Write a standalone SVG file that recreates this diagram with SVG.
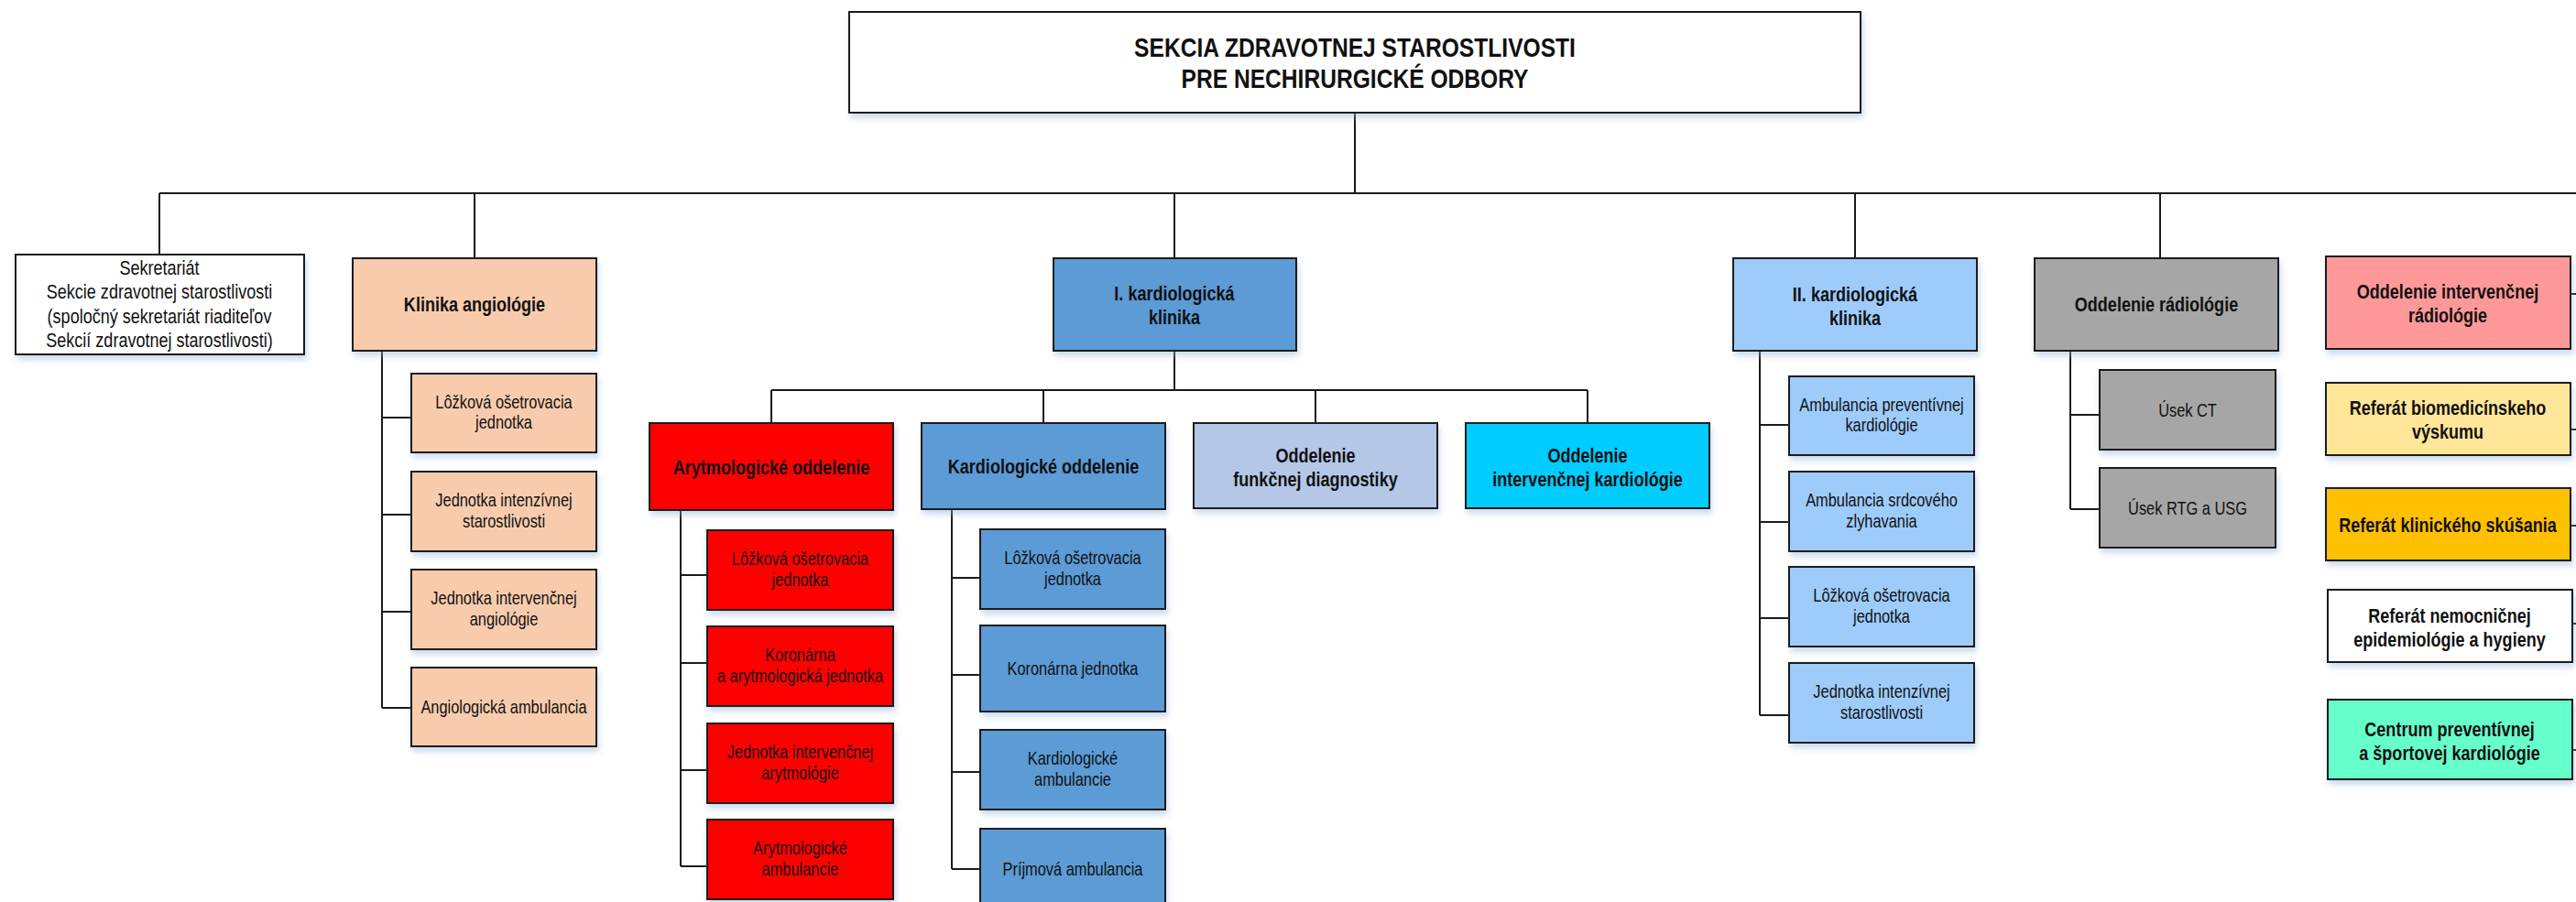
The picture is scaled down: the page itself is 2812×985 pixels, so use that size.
<svg xmlns="http://www.w3.org/2000/svg" width="2812" height="985" viewBox="0 0 2812 985">
<style>
text{font-family:"Liberation Sans",Arial,sans-serif;fill:#111;text-anchor:middle}
.h{font-size:30px;font-weight:bold}
.b{font-size:22px;font-weight:bold}
.r{font-size:20px}
.s{font-size:22px}
rect{stroke:#1a1a1a;stroke-width:2;filter:url(#sh)}
.cn path{fill:none;stroke:#1a1a1a;stroke-width:2}
.w{fill:#ffffff}.pe{fill:#F8CBAD}.bl{fill:#5B9BD5}.rd{fill:#FF0000}.lb{fill:#B4C7E7}
.cy{fill:#00CCFF}.sk{fill:#9DCBFA}.gr{fill:#A6A6A6}.pk{fill:#FF9999}.ye{fill:#FFE699}
.or{fill:#FFC000}.mi{fill:#66FFCC}
</style>
<defs>
<filter id="sh" x="-10%" y="-10%" width="125%" height="140%">
<feDropShadow dx="2" dy="5" stdDeviation="3" flood-color="#8fb0d8" flood-opacity="0.45"/>
</filter>
</defs>
<rect x="0" y="0" width="2812" height="985" fill="#ffffff" style="stroke:none;filter:none"/>

<g class="cn" id="connectors">
<path d="M1479,123V211M174,211H2812"/>
<path d="M174,211V278M518,211V282M1282,211V282M2025,211V282M2358,211V282"/>
<path d="M417,383V773M417,456H449M417,562H449M417,668H449M417,773H449"/>
<path d="M1282,383V426M842,426H1733M842,426V462M1139,426V462M1436,426V462M1733,426V462"/>
<path d="M743,557V946M743,628H772M743,724H772M743,841H772M743,946H772"/>
<path d="M1039,556V949M1039,631H1070M1039,737H1070M1039,843H1070M1039,949H1070"/>
<path d="M1921,383V781M1921,464H1953M1921,570H1953M1921,675H1953M1921,781H1953"/>
<path d="M2260,383V556M2260,453H2292M2260,556H2292"/>
<path d="M2806,321H2812M2806,469H2812M2806,574H2812M2808,681H2812M2808,819H2812"/>
</g>

<g id="top">
<rect class="w" x="927" y="13" width="1104" height="110"/>
<text class="h" transform="translate(1479,62) scale(.82 1)"><tspan x="0">SEKCIA ZDRAVOTNEJ STAROSTLIVOSTI</tspan><tspan x="0" dy="34">PRE NECHIRURGICKÉ ODBORY</tspan></text>
</g>

<g id="sekretariat">
<rect class="w" x="17" y="278" width="315" height="109"/>
<text class="s" transform="translate(174,300) scale(.82 1)"><tspan x="0">Sekretariát</tspan><tspan x="0" dy="26.5">Sekcie zdravotnej starostlivosti</tspan><tspan x="0" dy="26.5">(spoločný sekretariát riaditeľov</tspan><tspan x="0" dy="26.5">Sekcií zdravotnej starostlivosti)</tspan></text>
</g>

<g id="klinika-angiologie">
<rect class="pe" x="385" y="282" width="266" height="101"/>
<text class="b" transform="translate(518,340) scale(.82 1)">Klinika angiológie</text>
</g>
<g id="ka-1"><rect class="pe" x="449" y="408" width="202" height="86"/>
<text class="r" transform="translate(550,445.5) scale(.82 1)"><tspan x="0">Lôžková ošetrovacia</tspan><tspan x="0" dy="23">jednotka</tspan></text></g>
<g id="ka-2"><rect class="pe" x="449" y="515" width="202" height="87"/>
<text class="r" transform="translate(550,553) scale(.82 1)"><tspan x="0">Jednotka intenzívnej</tspan><tspan x="0" dy="23">starostlivosti</tspan></text></g>
<g id="ka-3"><rect class="pe" x="449" y="622" width="202" height="87"/>
<text class="r" transform="translate(550,660) scale(.82 1)"><tspan x="0">Jednotka intervenčnej</tspan><tspan x="0" dy="23">angiológie</tspan></text></g>
<g id="ka-4"><rect class="pe" x="449" y="729" width="202" height="86"/>
<text class="r" transform="translate(550,779) scale(.82 1)">Angiologická ambulancia</text></g>

<g id="i-kardio">
<rect class="bl" x="1150" y="282" width="265" height="101"/>
<text class="b" transform="translate(1282,328) scale(.82 1)"><tspan x="0">I. kardiologická</tspan><tspan x="0" dy="26">klinika</tspan></text>
</g>

<g id="arytmologicke">
<rect class="rd" x="709" y="462" width="266" height="95"/>
<text class="b" transform="translate(842,518) scale(.82 1)">Arytmologické oddelenie</text>
</g>
<g id="ar-1"><rect class="rd" x="772" y="579" width="203" height="87"/>
<text class="r" transform="translate(873.5,617) scale(.82 1)"><tspan x="0">Lôžková ošetrovacia</tspan><tspan x="0" dy="23">jednotka</tspan></text></g>
<g id="ar-2"><rect class="rd" x="772" y="684" width="203" height="87"/>
<text class="r" transform="translate(873.5,722) scale(.82 1)"><tspan x="0">Koronárna</tspan><tspan x="0" dy="23">a arytmologická jednotka</tspan></text></g>
<g id="ar-3"><rect class="rd" x="772" y="790" width="203" height="87"/>
<text class="r" transform="translate(873.5,828) scale(.82 1)"><tspan x="0">Jednotka intervenčnej</tspan><tspan x="0" dy="23">arytmológie</tspan></text></g>
<g id="ar-4"><rect class="rd" x="772" y="895" width="203" height="87"/>
<text class="r" transform="translate(873.5,933) scale(.82 1)"><tspan x="0">Arytmologické</tspan><tspan x="0" dy="23">ambulancie</tspan></text></g>

<g id="kardiologicke">
<rect class="bl" x="1006" y="462" width="266" height="94"/>
<text class="b" transform="translate(1139,517) scale(.82 1)">Kardiologické oddelenie</text>
</g>
<g id="ko-1"><rect class="bl" x="1070" y="578" width="202" height="87"/>
<text class="r" transform="translate(1171,616) scale(.82 1)"><tspan x="0">Lôžková ošetrovacia</tspan><tspan x="0" dy="23">jednotka</tspan></text></g>
<g id="ko-2"><rect class="bl" x="1070" y="683" width="202" height="94"/>
<text class="r" transform="translate(1171,737) scale(.82 1)">Koronárna jednotka</text></g>
<g id="ko-3"><rect class="bl" x="1070" y="797" width="202" height="87"/>
<text class="r" transform="translate(1171,835) scale(.82 1)"><tspan x="0">Kardiologické</tspan><tspan x="0" dy="23">ambulancie</tspan></text></g>
<g id="ko-4"><rect class="bl" x="1070" y="905" width="202" height="90"/>
<text class="r" transform="translate(1171,956) scale(.82 1)">Príjmová ambulancia</text></g>

<g id="funkcnej">
<rect class="lb" x="1303" y="462" width="266" height="93"/>
<text class="b" transform="translate(1436,505) scale(.82 1)"><tspan x="0">Oddelenie</tspan><tspan x="0" dy="26">funkčnej diagnostiky</tspan></text>
</g>
<g id="intervencnej-kardio">
<rect class="cy" x="1600" y="462" width="266" height="93"/>
<text class="b" transform="translate(1733,505) scale(.82 1)"><tspan x="0">Oddelenie</tspan><tspan x="0" dy="26">intervenčnej kardiológie</tspan></text>
</g>

<g id="ii-kardio">
<rect class="sk" x="1892" y="282" width="266" height="101"/>
<text class="b" transform="translate(2025,329) scale(.82 1)"><tspan x="0">II. kardiologická</tspan><tspan x="0" dy="26">klinika</tspan></text>
</g>
<g id="ii-1"><rect class="sk" x="1953" y="411" width="202" height="86"/>
<text class="r" transform="translate(2054,448.5) scale(.82 1)"><tspan x="0">Ambulancia preventívnej</tspan><tspan x="0" dy="23">kardiológie</tspan></text></g>
<g id="ii-2"><rect class="sk" x="1953" y="515" width="202" height="87"/>
<text class="r" transform="translate(2054,553) scale(.82 1)"><tspan x="0">Ambulancia srdcového</tspan><tspan x="0" dy="23">zlyhavania</tspan></text></g>
<g id="ii-3"><rect class="sk" x="1953" y="619" width="202" height="87"/>
<text class="r" transform="translate(2054,657) scale(.82 1)"><tspan x="0">Lôžková ošetrovacia</tspan><tspan x="0" dy="23">jednotka</tspan></text></g>
<g id="ii-4"><rect class="sk" x="1953" y="724" width="202" height="87"/>
<text class="r" transform="translate(2054,762) scale(.82 1)"><tspan x="0">Jednotka intenzívnej</tspan><tspan x="0" dy="23">starostlivosti</tspan></text></g>

<g id="radiologia">
<rect class="gr" x="2221" y="282" width="266" height="101"/>
<text class="b" transform="translate(2354,340) scale(.82 1)">Oddelenie rádiológie</text>
</g>
<g id="rad-1"><rect class="gr" x="2292" y="404" width="192" height="87"/>
<text class="r" transform="translate(2388,454.5) scale(.82 1)">Úsek CT</text></g>
<g id="rad-2"><rect class="gr" x="2292" y="511" width="192" height="87"/>
<text class="r" transform="translate(2388,561.5) scale(.82 1)">Úsek RTG a USG</text></g>

<g id="interv-radiologia">
<rect class="pk" x="2539" y="280" width="267" height="101"/>
<text class="b" transform="translate(2672,326) scale(.82 1)"><tspan x="0">Oddelenie intervenčnej</tspan><tspan x="0" dy="26">rádiológie</tspan></text>
</g>
<g id="biomed">
<rect class="ye" x="2539" y="418" width="267" height="79"/>
<text class="b" transform="translate(2672,453) scale(.82 1)"><tspan x="0">Referát biomedicínskeho</tspan><tspan x="0" dy="26">výskumu</tspan></text>
</g>
<g id="klinicke-skusanie">
<rect class="or" x="2539" y="533" width="267" height="79"/>
<text class="b" transform="translate(2672,581) scale(.82 1)">Referát klinického skúšania</text>
</g>
<g id="epidemiologia">
<rect class="w" x="2541" y="644" width="267" height="79"/>
<text class="b" transform="translate(2674,680) scale(.82 1)"><tspan x="0">Referát nemocničnej</tspan><tspan x="0" dy="26">epidemiológie a hygieny</tspan></text>
</g>
<g id="centrum">
<rect class="mi" x="2541" y="764" width="267" height="87"/>
<text class="b" transform="translate(2674,804) scale(.82 1)"><tspan x="0">Centrum preventívnej</tspan><tspan x="0" dy="26">a športovej kardiológie</tspan></text>
</g>
</svg>
